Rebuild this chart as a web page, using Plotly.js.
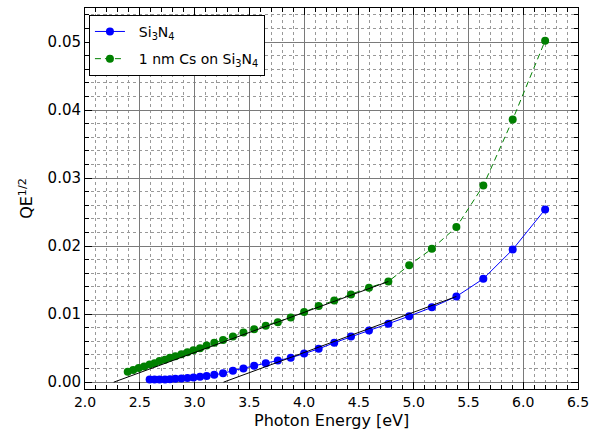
<!DOCTYPE html>
<html>
<head>
<meta charset="utf-8">
<script src="https://cdn.plot.ly/plotly-3.0.1.min.js"></script>
<style>html,body{margin:0;padding:0;background:#fff;}#chart{width:601px;height:439px;}</style>
</head>
<body>
<div id="chart"></div>
<script>
// Photon energy [eV]
const energyCs = [2.39, 2.44, 2.49, 2.54, 2.59, 2.635, 2.68, 2.73, 2.775, 2.825, 2.88, 2.935, 2.99, 3.05, 3.11, 3.18, 3.26, 3.35,
  3.446, 3.544, 3.65, 3.76, 3.878, 4.0, 4.133, 4.275, 4.428, 4.592, 4.769, 4.959, 5.166, 5.39, 5.636, 5.904, 6.2];
const qeCs = [0.00155, 0.0018, 0.0021, 0.0023, 0.0026, 0.0028, 0.0031, 0.0033, 0.0036, 0.0038, 0.0041, 0.0044, 0.0047, 0.0050, 0.0054, 0.0058, 0.0062, 0.0067,
  0.0073, 0.0078, 0.0083, 0.0088, 0.0095, 0.0103, 0.0112, 0.0120, 0.0129, 0.0139, 0.0148, 0.0172, 0.0196, 0.0228, 0.0289, 0.0386, 0.0502];

const energySiN = [2.59, 2.635, 2.68, 2.73, 2.775, 2.825, 2.88, 2.935, 2.99, 3.05, 3.11, 3.18, 3.26, 3.35,
  3.446, 3.544, 3.65, 3.76, 3.878, 4.0, 4.133, 4.275, 4.428, 4.592, 4.769, 4.959, 5.166, 5.39, 5.636, 5.904, 6.2];
const qeSiN = [0.0004, 0.0004, 0.0004, 0.0004, 0.00045, 0.0005, 0.00055, 0.0006, 0.0007, 0.0008, 0.0009, 0.0011, 0.0013, 0.0017,
  0.0020, 0.0024, 0.0028, 0.0032, 0.0036, 0.0042, 0.0049, 0.0058, 0.0067, 0.0076, 0.0086, 0.0097, 0.0110, 0.0126, 0.0152, 0.0195, 0.0254];

// Linear fits (threshold extrapolation)
const fitCsX = [2.262, 4.769];
const fitCsY = [0.0, 0.0148];
const fitSiNX = [3.264, 5.39];
const fitSiNY = [0.0, 0.0126];

const xTicks = [2.0, 2.5, 3.0, 3.5, 4.0, 4.5, 5.0, 5.5, 6.0, 6.5];
const xTickText = ['2.0','2.5','3.0','3.5','4.0','4.5','5.0','5.5','6.0','6.5'];
const yTicks = [0.00, 0.01, 0.02, 0.03, 0.04, 0.05];
const yTickText = ['0.00','0.01','0.02','0.03','0.04','0.05'];

const seriesNames = ['\u00a0\u00a0Si<sub>3</sub>N<sub>4</sub>', '\u00a0\u00a01 nm Cs on Si<sub>3</sub>N<sub>4</sub>'];
const xTitle = 'Photon Energy [eV]';
const yTitle = 'QE<sup>1/2</sup>';

const traces = [
  {x: energySiN, y: qeSiN, name: seriesNames[0], legendgroup: 'a', type: 'scatter', mode: 'lines+markers',
   line: {color: '#0000ff', width: 1}, marker: {color: '#0000ff', size: 8, symbol: 'circle'}},
  {x: energyCs, y: qeCs, name: seriesNames[1], legendgroup: 'b', type: 'scatter', mode: 'lines+markers',
   line: {color: '#008000', width: 1, dash: '6px,4px'}, marker: {color: '#008000', size: 8, symbol: 'circle'}},
  {x: fitCsX, y: fitCsY, type: 'scatter', mode: 'lines', showlegend: false, hoverinfo: 'skip',
   line: {color: '#000000', width: 1}},
  {x: fitSiNX, y: fitSiNY, type: 'scatter', mode: 'lines', showlegend: false, hoverinfo: 'skip',
   line: {color: '#000000', width: 1}}
];

const layout = {
  width: 601, height: 439,
  margin: {l: 84.5, r: 22.5, t: 8, b: 49.5},
  paper_bgcolor: '#fff', plot_bgcolor: '#fff',
  font: {family: 'DejaVu Sans, sans-serif', size: 14, color: '#000'},
  showlegend: true,
  legend: {x: 0.008, y: 0.982, xanchor: 'left', yanchor: 'top', bgcolor: '#fff',
           bordercolor: '#000', borderwidth: 1, tracegroupgap: 6,
           font: {family: 'DejaVu Sans, sans-serif', size: 14}},
  annotations: [
    {text: xTitle, xref: 'paper', yref: 'paper', x: 0.5, y: 0, xanchor: 'center', yanchor: 'top',
     yshift: -20, showarrow: false, font: {family: 'DejaVu Sans, sans-serif', size: 16, color: '#000'}}
  ],
  xaxis: {
    range: [2.0, 6.5], tickvals: xTicks, ticktext: xTickText,
    showline: true, linecolor: '#000', linewidth: 1, mirror: 'allticks',
    ticks: 'inside', ticklen: 7, tickcolor: '#000',
    showgrid: true, gridcolor: '#7a7a7a', gridwidth: 1,
    zeroline: false,
    minor: {dtick: 0.1, ticks: 'inside', ticklen: 4, tickcolor: '#000', showgrid: true, gridcolor: '#999', griddash: 'dot', gridwidth: 1},
    tickfont: {family: 'DejaVu Sans, sans-serif', size: 14}
  },
  yaxis: {
    range: [-0.001, 0.055], tickvals: yTicks, ticktext: yTickText,
    showline: true, linecolor: '#000', linewidth: 1, mirror: 'allticks',
    ticks: 'inside', ticklen: 7, tickcolor: '#000',
    showgrid: true, gridcolor: '#7a7a7a', gridwidth: 1,
    zeroline: false,
    minor: {dtick: 0.002, ticks: 'inside', ticklen: 4, tickcolor: '#000', showgrid: true, gridcolor: '#999', griddash: 'dot', gridwidth: 1},
    title: {text: yTitle, font: {family: 'DejaVu Sans, sans-serif', size: 16}, standoff: 10},
    tickfont: {family: 'DejaVu Sans, sans-serif', size: 15}
  }
};

Plotly.newPlot('chart', traces, layout, {displayModeBar: false, staticPlot: true});
</script>
</body>
</html>
